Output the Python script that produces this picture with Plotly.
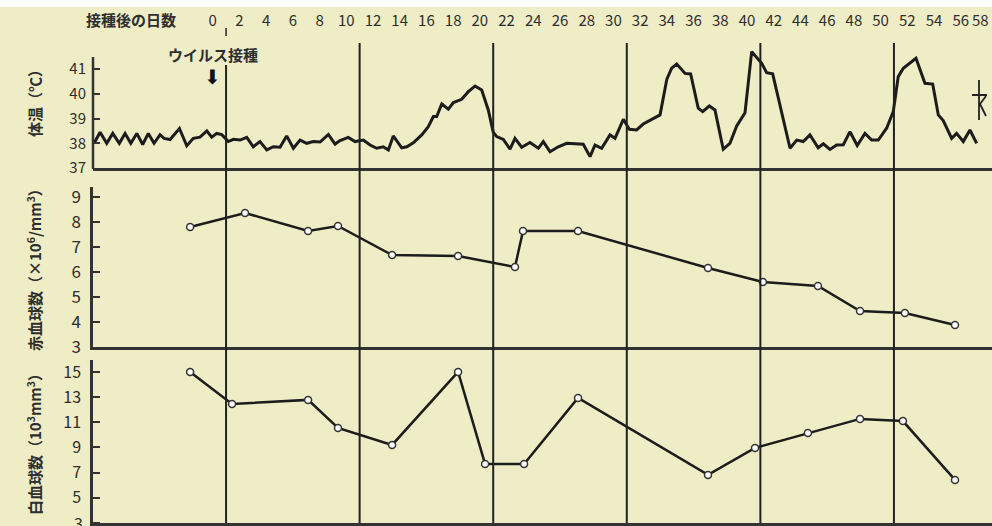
import plotly.graph_objects as go

# ---------------- data ----------------
temp_days = [-8.88, -8.43, -7.93, -7.48, -6.99, -6.56, -6.13, -5.68, -5.24, -4.82,
             -4.39, -3.94, -3.64, -3.19, -2.49, -1.94, -1.45, -0.95, -0.44, -0.07,
             0.30, 0.68, 1.17, 1.55, 2.05, 2.55, 3.04, 3.54, 4.05, 4.54,
             5.04, 5.54, 6.04, 6.54, 7.04, 7.53, 8.04, 8.66, 9.16, 9.53,
             10.15, 10.66, 11.28, 11.78, 12.28, 12.77, 13.15, 13.52, 14.15, 14.53,
             15.02, 15.65, 16.14, 16.52, 16.77, 17.15, 17.64, 18.02, 18.64, 19.14,
             19.64, 20.14, 20.63, 21.00, 21.26, 21.76, 22.26, 22.63, 23.13, 23.75,
             24.38, 24.75, 25.25, 25.87, 26.50, 27.74, 28.25, 28.62, 29.12, 29.74,
             30.12, 30.74, 31.19, 31.74, 32.23, 33.49, 34.00, 34.36, 34.74, 35.36,
             35.78, 36.35, 36.68, 37.18, 37.60, 38.22, 38.72, 39.23, 39.85, 40.35,
             41.10, 41.47, 41.92, 43.22, 43.72, 44.21, 44.71, 45.33, 45.71, 46.21,
             46.71, 47.21, 47.71, 48.25, 48.83, 49.33, 49.83, 50.45, 50.95, 51.32,
             51.70, 52.65, 53.32, 53.90, 54.32, 54.69, 55.32, 55.69, 56.19, 56.69,
             57.19]
temp_vals = [38.0, 38.45, 38.0, 38.4, 38.0, 38.4, 38.0, 38.4, 37.95, 38.4,
             38.0, 38.35, 38.2, 38.15, 38.6, 37.9, 38.2, 38.25, 38.5, 38.25,
             38.4, 38.35, 38.07, 38.16, 38.13, 38.24, 37.86, 38.07, 37.73, 37.86,
             37.84, 38.3, 37.8, 38.13, 38.0, 38.07, 38.05, 38.36, 37.97, 38.11,
             38.24, 38.07, 38.13, 37.93, 37.8, 37.86, 37.73, 38.3, 37.82, 37.86,
             38.02, 38.34, 38.67, 39.08, 39.08, 39.59, 39.38, 39.65, 39.78, 40.09,
             40.32, 40.16, 39.35, 38.45, 38.27, 38.16, 37.76, 38.2, 37.84, 38.03,
             37.8, 38.07, 37.66, 37.86, 38.0, 37.96, 37.46, 37.93, 37.8, 38.34,
             38.2, 38.97, 38.57, 38.54, 38.78, 39.15, 40.6, 41.04, 41.21, 40.83,
             40.81, 39.42, 39.28, 39.51, 39.35, 37.76, 38.0, 38.7, 39.24, 41.71,
             41.24, 40.86, 40.81, 37.8, 38.13, 38.07, 38.34, 37.82, 37.98, 37.75,
             37.93, 37.94, 38.47, 37.91, 38.4, 38.13, 38.13, 38.61, 39.28, 40.7,
             41.04, 41.44, 40.43, 40.4, 39.15, 38.92, 38.2, 38.4, 38.07, 38.54,
             38.0]

rbc_days = [-1.69, 2.42, 7.14, 9.38, 13.43, 18.37, 22.63, 23.23, 27.35, 37.08,
            41.19, 45.31, 48.46, 51.82, 55.57]
rbc_vals = [7.8, 8.36, 7.64, 7.84, 6.68, 6.64, 6.2, 7.64, 7.64, 6.16,
            5.6, 5.44, 4.44, 4.36, 3.88]

wbc_days = [-1.69, 1.45, 7.14, 9.38, 13.43, 18.37, 20.39, 23.31, 27.35, 37.08,
            40.6, 44.56, 48.46, 51.67, 55.57]
wbc_vals = [15.0, 12.46, 12.78, 10.55, 9.2, 15.0, 7.69, 7.69, 12.94, 6.82,
            8.96, 10.15, 11.27, 11.1, 6.42]

day_ticks = list(range(0, 59, 2))
day_labels = [str(d) for d in day_ticks]
marker_days = [1, 11, 21, 31, 41, 51]
inoculation_day = 0
temp_ticks = [37, 38, 39, 40, 41]
rbc_ticks = [3, 4, 5, 6, 7, 8, 9]
wbc_ticks = [3, 5, 7, 9, 11, 13, 15]

# ---------------- layout helpers ----------------
W, H = 992, 526
L = 93
PW = W - L


def px(xp):
    return (xp - L) / PW


def py(yp):
    return 1 - yp / H


BG = "#EFEDC6"
INK = "#1c1c1c"
TXT = "#2e2e2e"
FONT = "Noto Sans CJK JP"
XR = [-8.96, 58.34]
TEMP_RANGE = [37, 41.8]
WBC_RANGE = [3, 15.95]

fig = go.Figure()
fig.add_trace(go.Scatter(x=temp_days, y=temp_vals, mode="lines",
                         line=dict(color=INK, width=3), cliponaxis=False,
                         xaxis="x", yaxis="y", showlegend=False))
fig.add_trace(go.Scatter(x=rbc_days, y=rbc_vals, mode="lines+markers",
                         line=dict(color=INK, width=2.5),
                         marker=dict(symbol="circle", size=7, color="white",
                                     line=dict(color="#333", width=1.5)),
                         cliponaxis=False, xaxis="x2", yaxis="y2", showlegend=False))
fig.add_trace(go.Scatter(x=wbc_days, y=wbc_vals, mode="lines+markers",
                         line=dict(color=INK, width=2.5),
                         marker=dict(symbol="circle", size=7, color="white",
                                     line=dict(color="#333", width=1.5)),
                         cliponaxis=False, xaxis="x3", yaxis="y3", showlegend=False))
# empty trace so the top day axis is drawn
fig.add_trace(go.Scatter(x=[], y=[], xaxis="x4", yaxis="y", showlegend=False))

xcommon = dict(range=XR, showline=True, linecolor="#333", linewidth=2.5,
               showticklabels=False, ticks="", showgrid=False, zeroline=False,
               domain=[0, 1])
ycommon = dict(linecolor="#333", linewidth=2.5, ticks="inside",
               ticklen=7, tickwidth=2, tickcolor="#333", showgrid=False,
               zeroline=False, ticklabelstandoff=6)

temp_top_px = 168 - (TEMP_RANGE[1] - 37) * 24.7

fig.update_layout(
    width=W, height=H,
    margin=dict(l=L, r=0, t=0, b=0, autoexpand=False),
    paper_bgcolor=BG, plot_bgcolor=BG,
    font=dict(family=FONT, color=TXT),
    xaxis=dict(anchor="y", **xcommon),
    xaxis2=dict(anchor="y2", **xcommon),
    xaxis3=dict(anchor="y3", **xcommon),
    xaxis4=dict(overlaying="x", side="top", anchor="free", position=py(29),
                range=XR, tickmode="array", tickvals=day_ticks[:-1], ticktext=day_labels[:-1],
                showline=False, showgrid=False, zeroline=False, ticks="",
                tickfont=dict(size=15, color=TXT, family=FONT)),
    yaxis=dict(anchor="x", domain=[py(168), py(temp_top_px)], range=TEMP_RANGE,
               tickvals=temp_ticks, tickfont=dict(size=15), showline=False, **ycommon),
    yaxis2=dict(anchor="x2", domain=[py(347), py(187)], range=[3, 9.4],
                tickvals=rbc_ticks, tickfont=dict(size=17), showline=True, **ycommon),
    yaxis3=dict(anchor="x3", domain=[py(523), py(360)], range=WBC_RANGE,
                tickvals=wbc_ticks[1:], tickfont=dict(size=16), showline=True, **ycommon),
)

shapes = []
# white strip at top of the picture
shapes.append(dict(type="rect", xref="paper", yref="paper", x0=px(0), x1=px(W),
                   y0=py(7), y1=1, fillcolor="white", line=dict(width=0), layer="below"))
# left axis line of the temperature panel
shapes.append(dict(type="line", xref="paper", yref="paper", x0=0, x1=0,
                   y0=py(169), y1=py(57), line=dict(color="#333", width=2.5)))
for i, d in enumerate(marker_days):
    top = 65 if i == 0 else 43
    shapes.append(dict(type="line", xref="x", yref="paper", x0=d, x1=d,
                       y0=py(523), y1=py(top), line=dict(color="#222", width=2)))
# small mark above the first vertical line
shapes.append(dict(type="line", xref="x", yref="paper", x0=marker_days[0], x1=marker_days[0],
                   y0=py(36), y1=py(28), line=dict(color="#222", width=1.5)))
# bottom tick of the white-cell axis (its label is added as an annotation)
shapes.append(dict(type="line", xref="paper", yref="y3", x0=0, x1=px(L + 7),
                   y0=wbc_ticks[0], y1=wbc_ticks[0], line=dict(color="#333", width=2)))
# death-like symbol at right edge of temperature panel
sym = "M {a},{b} L {a},{c} M {d},{e} L {f},{e} M {g},{h} L {a2},{i} L {g},{j}".format(
    a=px(979), b=py(80), c=py(120), d=px(972), e=py(95), f=px(987),
    g=px(986), h=py(96), a2=px(980), i=py(104), j=py(116))
shapes.append(dict(type="path", xref="paper", yref="paper", path=sym,
                   line=dict(color="#222", width=1.8)))
fig.update_layout(shapes=shapes)

ann = []
ann.append(dict(xref="paper", yref="paper", x=px(131), y=py(20), text="<b>接種後の日数</b>",
                showarrow=False, font=dict(size=15, color=TXT), xanchor="center", yanchor="middle"))
# last day label, kept inside the picture
ann.append(dict(xref="x", yref="paper", x=XR[1], y=py(20), text=day_labels[-1],
                showarrow=False, font=dict(size=15, color=TXT), xanchor="right", yanchor="middle",
                xshift=-1))
ann.append(dict(xref="paper", yref="y3", x=px(85), y=wbc_ticks[0], text=str(wbc_ticks[0]),
                showarrow=False, font=dict(size=16, color=TXT), xanchor="right", yanchor="middle"))
ann.append(dict(xref="x", yref="paper", x=inoculation_day, y=py(55), text="<b>ウイルス接種</b>",
                showarrow=False, font=dict(size=15, color=TXT), xanchor="center", yanchor="middle"))
ann.append(dict(xref="x", yref="paper", x=inoculation_day, y=py(77), text="⬇",
                showarrow=False, font=dict(size=20, color="#111", family="DejaVu Sans"),
                xanchor="center", yanchor="middle"))
ann.append(dict(xref="paper", yref="paper", x=px(34), y=py(99), text="<b>体温（℃）</b>",
                textangle=-90, showarrow=False, font=dict(size=15, color=TXT),
                xanchor="center", yanchor="middle"))
ann.append(dict(xref="paper", yref="paper", x=px(34), y=py(266), text="<b>赤血球数（×10<sup>6</sup>/mm<sup>3</sup>）</b>",
                textangle=-90, showarrow=False, font=dict(size=15, color=TXT),
                xanchor="center", yanchor="middle"))
ann.append(dict(xref="paper", yref="paper", x=px(34), y=py(440), text="<b>白血球数（10<sup>3</sup>mm<sup>3</sup>）</b>",
                textangle=-90, showarrow=False, font=dict(size=15, color=TXT),
                xanchor="center", yanchor="middle"))
fig.update_layout(annotations=ann)

fig.write_html("out.html", config={"displayModeBar": False},
               post_script="document.body.style.margin='0';document.body.style.overflow='hidden';")
